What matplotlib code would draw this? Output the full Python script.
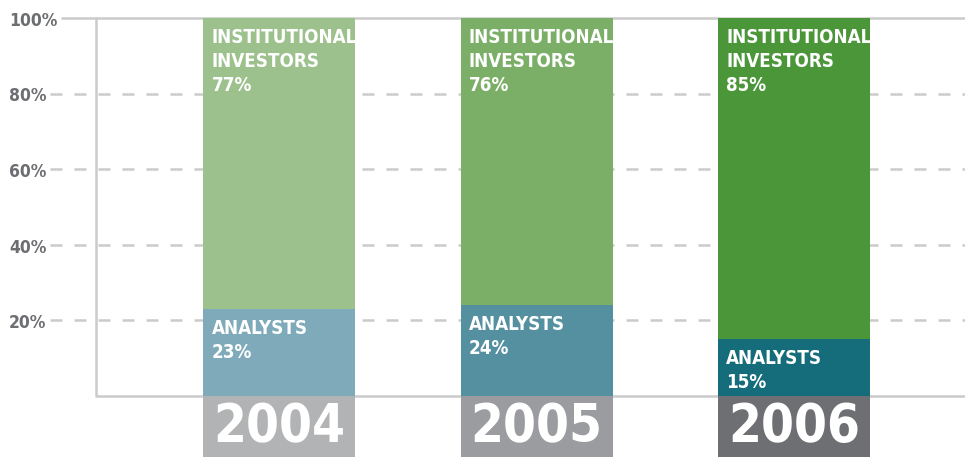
import matplotlib
matplotlib.use('Agg')
import matplotlib.pyplot as plt

years = ['2004', '2005', '2006']
analysts = [23, 24, 15]
investors = [77, 76, 85]
ticks = [20, 40, 60, 80, 100]

inv_colors = ['#9dc18c', '#7bae66', '#4a9638']
ana_colors = ['#7faab9', '#5590a0', '#156d7c']
year_colors = ['#b2b3b5', '#9b9ca0', '#6e6f73']
grid_color = '#cbcbcb'
tick_color = '#6d6e71'

plt.rcParams['font.family'] = ['DejaVu Sans']
plt.rcParams['font.stretch'] = 'condensed'
plt.rcParams['font.weight'] = 'bold'

fig = plt.figure(figsize=(9.65, 4.57), dpi=100)
# axes: x from px 96 to 965, y 0 at px 396, 100 at px 18
ax = fig.add_axes([96/965, (457-396)/457, (965-96)/965, (396-18)/457])
ax.set_xlim(-0.711, 2.664)
ax.set_ylim(0, 100)
ax.axis('off')

span = 2.664 + 0.711
def xpx(p):
    return -0.711 + (p - 96) / 869 * span

# gridlines + labels
for t in ticks:
    if t == 100:
        ax.plot([xpx(61), 2.664], [t, t], color=grid_color, lw=1.8, clip_on=False, zorder=1,
                solid_capstyle='butt')
    else:
        ax.plot([xpx(50), 2.664], [t, t], color=grid_color, lw=1.8, ls=(0, (4.8, 4.8)),
                clip_on=False, zorder=1)
    ax.annotate(f'{t}%', xy=(xpx(9), t), xytext=(0, -2), textcoords='offset points',
                ha='left', va='center', fontsize=12.5, color=tick_color, annotation_clip=False)

# left line + baseline
ax.plot([-0.711, -0.711, 2.664], [100, 0, 0], color=grid_color, lw=1.8, clip_on=False,
        zorder=1, solid_joinstyle='round')

x = range(len(years))
w = 0.59
ax.bar(x, analysts, width=w, color=ana_colors, zorder=3)
ax.bar(x, investors, width=w, bottom=analysts, color=inv_colors, zorder=3)
ax.bar(x, [-16.2] * 3, width=w, color=year_colors, zorder=3, clip_on=False)

for i in x:
    left = i - w / 2
    ax.annotate(f'INSTITUTIONAL\nINVESTORS\n{investors[i]}%', xy=(left, 100),
                xytext=(6, -7), textcoords='offset points', ha='left', va='top',
                fontsize=13.5, color='white', linespacing=1.33, zorder=4)
    ax.annotate(f'ANALYSTS\n{analysts[i]}%', xy=(left, analysts[i]),
                xytext=(6, -7), textcoords='offset points', ha='left', va='top',
                fontsize=13.5, color='white', linespacing=1.33, zorder=4)
    ax.text(i, -8.3, years[i], ha='center', va='center', fontsize=38,
            color='white', zorder=4, clip_on=False)

fig.savefig('out.png', dpi=100)
